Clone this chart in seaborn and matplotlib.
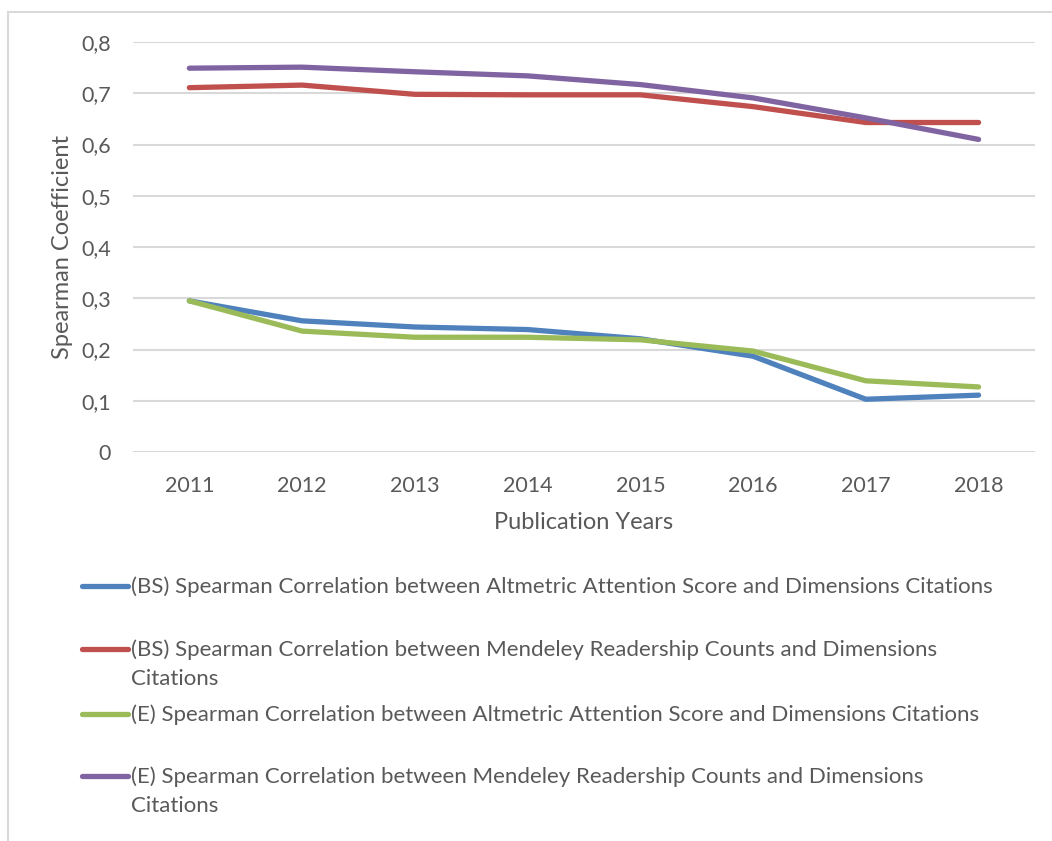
import pandas as pd
import matplotlib.pyplot as plt
import seaborn as sns
from matplotlib.lines import Line2D
from matplotlib.patches import Rectangle

# Data
years = [2011, 2012, 2013, 2014, 2015, 2016, 2017, 2018]
bs_altmetric = [0.295, 0.256, 0.244, 0.239, 0.221, 0.187, 0.103, 0.111]
bs_mendeley = [0.711, 0.716, 0.698, 0.697, 0.697, 0.674, 0.643, 0.643]
e_altmetric = [0.295, 0.236, 0.224, 0.224, 0.219, 0.197, 0.139, 0.127]
e_mendeley = [0.749, 0.751, 0.742, 0.734, 0.717, 0.691, 0.652, 0.610]

series_labels = [
    "(BS) Spearman Correlation between Altmetric Attention Score and Dimensions Citations",
    "(BS) Spearman Correlation between Mendeley Readership Counts and Dimensions\nCitations",
    "(E) Spearman Correlation between Altmetric Attention Score and Dimensions Citations",
    "(E) Spearman Correlation between Mendeley Readership Counts and Dimensions\nCitations",
]
series_values = [bs_altmetric, bs_mendeley, e_altmetric, e_mendeley]
colors = ["#4F81BD", "#C0504D", "#9BBB59", "#8064A2"]
y_ticks = [0, 0.1, 0.2, 0.3, 0.4, 0.5, 0.6, 0.7, 0.8]

sns.set_theme(style="white")
plt.rcParams['font.family'] = ['Lato', 'DejaVu Sans']
text_color = "#595959"

rows = []
for label, vals in zip(series_labels, series_values):
    for yr, v in zip(years, vals):
        rows.append({"year": yr, "value": v, "series": label})
df = pd.DataFrame(rows)

fig = plt.figure(figsize=(10.52, 8.41), dpi=100)
ax = fig.add_axes([0.1264, 0.4625, 0.8574, 0.4875])

sns.lineplot(data=df, x="year", y="value", hue="series", hue_order=series_labels,
             palette=colors, linewidth=3.8, legend=False, ax=ax, zorder=3)
for line in ax.lines:
    line.set_solid_capstyle("round")
    line.set_solid_joinstyle("round")

ax.set_xlim(2010.5, 2018.5)
ax.set_ylim(0, 0.8)
ax.set_xticks(years)
ax.set_xticklabels([str(y) for y in years])
ax.set_yticks(y_ticks)
ax.set_yticklabels(["0" if t == 0 else f"{t:.1f}".replace(".", ",") for t in y_ticks])
ax.yaxis.grid(True, color="#D9D9D9", linewidth=1.5)
ax.set_axisbelow(True)
for s in ax.spines.values():
    s.set_visible(False)
ax.tick_params(axis="both", length=0, labelsize=15.5, colors=text_color)
ax.tick_params(axis="x", pad=17)
ax.tick_params(axis="y", pad=16)
ax.set_xlabel("Publication Years", fontsize=17, color=text_color, labelpad=12)
ax.set_ylabel("Spearman Coefficient", fontsize=17, color=text_color, labelpad=6)

# chart area border (cropped on right and bottom like the reference)
fig.patches.append(Rectangle((8 / 1052, -0.01), 1.1, 1 - 12.5 / 841 + 0.01,
                             transform=fig.transFigure, fill=False,
                             edgecolor="#D9D9D9", linewidth=1.5))

# legend below the plot, handle aligned with the first text line
legend_y = [586, 649, 714, 776]
for label, color, ypx in zip(series_labels, colors, legend_y):
    yf = 1 - ypx / 841
    fig.add_artist(Line2D([82 / 1052, 128 / 1052], [yf, yf], color=color,
                          linewidth=3.8, solid_capstyle="round",
                          transform=fig.transFigure))
    fig.text(131 / 1052, yf + 10 / 841, label, fontsize=16, color=text_color,
             va="top", ha="left", linespacing=1.6)

fig.savefig("out.png", dpi=100)
